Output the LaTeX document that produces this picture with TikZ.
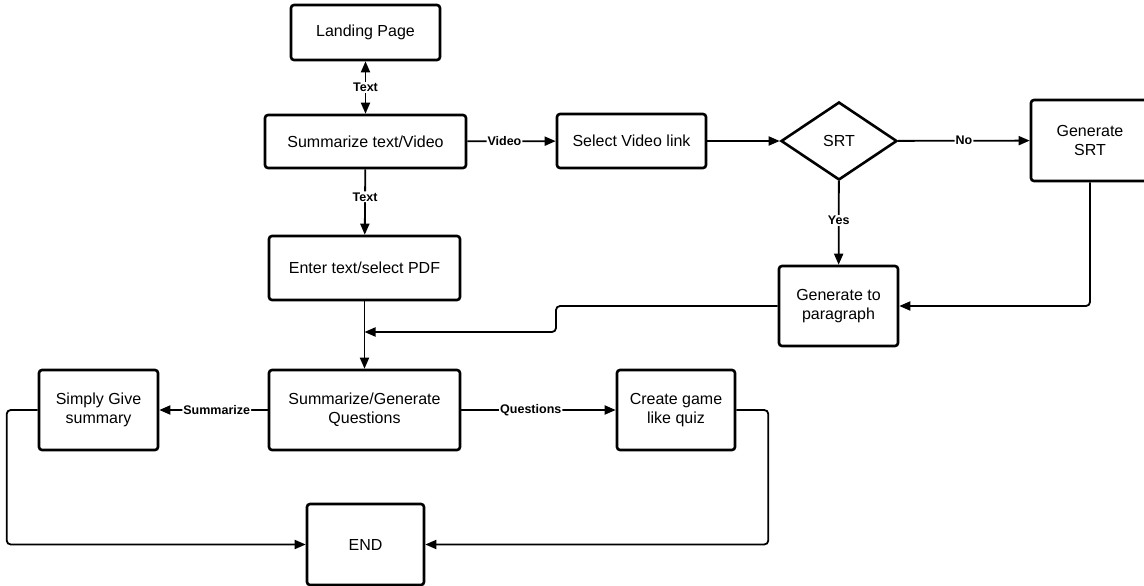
\documentclass[tikz,border=0pt]{standalone}
\usepackage{fontspec}
\setmainfont{Liberation Sans}
\usetikzlibrary{arrows.meta,shapes.geometric}

\tikzset{
    box/.style={draw, line width=2.6pt, rounded corners=3pt, align=center, font=\fontsize{16}{19}\selectfont},
    decision/.style={draw, diamond, line width=2.6pt, inner sep=0pt, font=\fontsize{16}{19}\selectfont},
    line/.style={line width=1.8pt, rounded corners=4pt, -{Triangle[length=11pt, width=9pt]}},
    tag/.style={fill=white, inner sep=1pt, font=\bfseries\fontsize{12.5}{14}\selectfont}
}

\begin{document}
\begin{tikzpicture}[x=1pt, y=-1pt]
    \useasboundingbox (0,0) rectangle (1144,586);

    % boxes
    \node[box, minimum width=149pt, minimum height=55pt] (landing) at (365.5,32.5) {Landing Page};
    \node[box, minimum width=201pt, minimum height=53pt] (sumtv) at (365.5,141.5) {Summarize text/Video};
    \node[box, minimum width=149pt, minimum height=54pt] (video) at (631.5,141) {Select Video link};
    \node[decision, minimum width=116pt, minimum height=78pt] (srt) at (839,141) {SRT};
    \node[box, minimum width=118pt, minimum height=81pt] (gensrt) at (1090,140.5) {Generate\\SRT};
    \node[box, minimum width=119pt, minimum height=80pt] (para) at (838.5,306) {Generate to\\paragraph};
    \node[box, minimum width=191pt, minimum height=64pt] (enter) at (364.5,268) {Enter text/select PDF};
    \node[box, minimum width=191pt, minimum height=80pt] (sumgen) at (364.5,410) {Summarize/Generate\\Questions};
    \node[box, minimum width=119pt, minimum height=80pt] (simply) at (98.5,410) {Simply Give\\summary};
    \node[box, minimum width=118pt, minimum height=80pt] (quiz) at (676,410) {Create game\\like quiz};
    \node[box, minimum width=117pt, minimum height=81pt] (endn) at (365.5,544.5) {END};

    \coordinate (jog) at (556,332);
    \coordinate (merge) at (364.5,332);

    % connectors
    \draw[line, {Triangle[length=11pt, width=9pt]}-{Triangle[length=11pt, width=9pt]}] (sumtv) -- (landing) node[tag, midway] {Text};
    \draw[line] (sumtv) -- (enter) node[tag, pos=0.42] {Text};
    \draw[line] (sumtv) -- (video) node[tag, pos=0.42] {Video};
    \draw[line] (video) -- (srt);
    \draw[line] (srt) -- (gensrt) node[tag, midway] {No};
    \draw[line] (srt) -- (para) node[tag, pos=0.47] {Yes};
    \draw[line] (gensrt.south) |- (para.east);
    \draw[line] (para.west) -| (jog) -- (merge);
    \draw[line] (enter) -- (sumgen);
    \draw[line] (sumgen) -- (simply) node[tag, pos=0.47] {Summarize};
    \draw[line] (sumgen) -- (quiz) node[tag, pos=0.45] {Questions};
    \draw[line] (simply.west) -- ++(-31,0) |- (endn.west);
    \draw[line] (quiz.east) -- ++(32,0) |- (endn.east);
\end{tikzpicture}
\end{document}
